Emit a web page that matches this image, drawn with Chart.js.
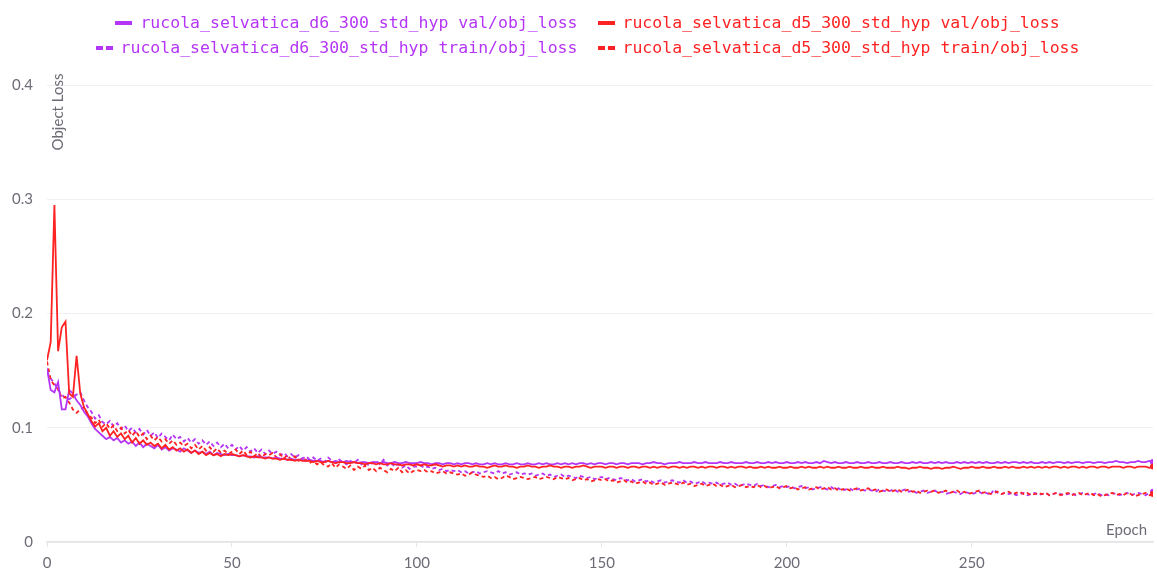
<!DOCTYPE html>
<html>
<head>
<meta charset="utf-8">
<title>obj_loss</title>
<script src="https://cdn.jsdelivr.net/npm/chart.js@4.4.1/dist/chart.umd.min.js"></script>
<style>
  body { margin: 0; background: #fff; }
  #wrap { position: relative; width: 1157px; height: 574px; }
  #legend {
    position: absolute; top: 10px; left: 18px; right: 0;
    font-family: "DejaVu Sans Mono", monospace; font-size: 16.5px;
  }
  .row { display: flex; justify-content: center; align-items: center; height: 25px; }
  .item { display: flex; align-items: center; margin: 0 10px; white-space: pre; }
  .mark { width: 17px; height: 4px; margin-right: 8px; }
</style>
</head>
<body>
<div id="wrap">
  <canvas id="lossChart" width="1157" height="574"></canvas>
  <div id="legend"></div>
</div>
<script>
// obj_loss pro Epoche, Läufe d6 und d5
const d6Val = [
  0.152, 0.133, 0.131, 0.140, 0.116, 0.116, 0.133, 0.130, 0.124, 0.120,
  0.114, 0.110, 0.104, 0.099, 0.096, 0.093, 0.090, 0.092, 0.089, 0.091,
  0.087, 0.089, 0.086, 0.088, 0.084, 0.087, 0.083, 0.086, 0.084, 0.082,
  0.085, 0.081, 0.083, 0.080, 0.082, 0.081, 0.079, 0.082, 0.080, 0.078,
  0.080, 0.078, 0.079, 0.077, 0.079, 0.076, 0.078, 0.077, 0.076, 0.077,
  0.076, 0.076, 0.075, 0.076, 0.075, 0.075, 0.074, 0.075, 0.074, 0.074,
  0.074, 0.073, 0.074, 0.073, 0.073, 0.072, 0.073, 0.072, 0.072, 0.072,
  0.071, 0.072, 0.071, 0.071, 0.071, 0.070, 0.071, 0.070, 0.071, 0.070,
  0.070, 0.071, 0.070, 0.070, 0.069, 0.070, 0.070, 0.069, 0.070, 0.070,
  0.069, 0.070, 0.069, 0.069, 0.070, 0.069, 0.069, 0.070, 0.069, 0.069,
  0.069, 0.070, 0.069, 0.069, 0.068, 0.069, 0.069, 0.068, 0.069, 0.069,
  0.068, 0.069, 0.068, 0.069, 0.069, 0.068, 0.069, 0.068, 0.068, 0.069,
  0.068, 0.069, 0.068, 0.068, 0.069, 0.068, 0.068, 0.069, 0.068, 0.068,
  0.069, 0.068, 0.068, 0.069, 0.068, 0.069, 0.068, 0.068, 0.069, 0.068,
  0.069, 0.068, 0.069, 0.068, 0.069, 0.069, 0.068, 0.069, 0.068, 0.069,
  0.069, 0.068, 0.069, 0.069, 0.068, 0.069, 0.069, 0.068, 0.069, 0.069,
  0.069, 0.068, 0.069, 0.069, 0.070, 0.069, 0.069, 0.068, 0.069, 0.069,
  0.069, 0.070, 0.069, 0.069, 0.069, 0.070, 0.069, 0.069, 0.070, 0.069,
  0.069, 0.069, 0.070, 0.069, 0.069, 0.070, 0.069, 0.069, 0.069, 0.070,
  0.069, 0.069, 0.070, 0.069, 0.069, 0.070, 0.069, 0.070, 0.069, 0.069,
  0.070, 0.069, 0.069, 0.070, 0.069, 0.070, 0.069, 0.069, 0.070, 0.069,
  0.071, 0.070, 0.069, 0.070, 0.069, 0.069, 0.070, 0.069, 0.069, 0.070,
  0.069, 0.069, 0.070, 0.069, 0.069, 0.070, 0.069, 0.069, 0.070, 0.069,
  0.069, 0.070, 0.069, 0.069, 0.070, 0.069, 0.070, 0.069, 0.069, 0.070,
  0.069, 0.070, 0.069, 0.070, 0.069, 0.069, 0.070, 0.069, 0.070, 0.069,
  0.070, 0.069, 0.070, 0.069, 0.070, 0.069, 0.069, 0.070, 0.069, 0.070,
  0.069, 0.070, 0.070, 0.069, 0.070, 0.069, 0.070, 0.069, 0.069, 0.070,
  0.069, 0.070, 0.069, 0.070, 0.070, 0.069, 0.070, 0.069, 0.070, 0.070,
  0.069, 0.070, 0.070, 0.069, 0.070, 0.070, 0.069, 0.070, 0.070, 0.071,
  0.070, 0.070, 0.069, 0.070, 0.070, 0.071, 0.070, 0.070, 0.071, 0.070
];

const d5Val = [
  0.159, 0.175, 0.295, 0.167, 0.188, 0.193, 0.130, 0.127, 0.163, 0.130,
  0.118, 0.112, 0.106, 0.101, 0.104, 0.097, 0.100, 0.093, 0.097, 0.092,
  0.095, 0.090, 0.093, 0.087, 0.091, 0.086, 0.089, 0.085, 0.087, 0.084,
  0.086, 0.082, 0.085, 0.081, 0.083, 0.080, 0.082, 0.079, 0.081, 0.078,
  0.080, 0.077, 0.079, 0.076, 0.078, 0.076, 0.077, 0.075, 0.077, 0.076,
  0.077, 0.076, 0.075, 0.076, 0.075, 0.074, 0.075, 0.074, 0.074, 0.073,
  0.074, 0.073, 0.073, 0.072, 0.073, 0.072, 0.072, 0.071, 0.072, 0.071,
  0.071, 0.071, 0.070, 0.071, 0.070, 0.070, 0.071, 0.070, 0.069, 0.070,
  0.070, 0.069, 0.069, 0.070, 0.069, 0.069, 0.068, 0.069, 0.069, 0.068,
  0.069, 0.068, 0.068, 0.069, 0.068, 0.068, 0.067, 0.068, 0.068, 0.067,
  0.068, 0.067, 0.068, 0.067, 0.067, 0.068, 0.067, 0.066, 0.067, 0.067,
  0.066, 0.067, 0.066, 0.067, 0.066, 0.066, 0.067, 0.066, 0.066, 0.065,
  0.066, 0.067, 0.066, 0.066, 0.067, 0.066, 0.066, 0.065, 0.066, 0.066,
  0.067, 0.066, 0.066, 0.065, 0.066, 0.066, 0.067, 0.066, 0.066, 0.065,
  0.066, 0.066, 0.065, 0.066, 0.066, 0.067, 0.066, 0.065, 0.066, 0.066,
  0.066, 0.065, 0.066, 0.066, 0.065, 0.066, 0.066, 0.065, 0.066, 0.066,
  0.065, 0.066, 0.066, 0.065, 0.066, 0.065, 0.066, 0.066, 0.065, 0.066,
  0.066, 0.065, 0.066, 0.065, 0.066, 0.066, 0.065, 0.066, 0.065, 0.066,
  0.066, 0.065, 0.066, 0.066, 0.065, 0.066, 0.065, 0.066, 0.066, 0.065,
  0.066, 0.065, 0.065, 0.066, 0.065, 0.066, 0.065, 0.065, 0.066, 0.065,
  0.065, 0.066, 0.065, 0.065, 0.066, 0.065, 0.066, 0.065, 0.065, 0.066,
  0.065, 0.066, 0.065, 0.065, 0.066, 0.065, 0.065, 0.066, 0.065, 0.065,
  0.066, 0.065, 0.065, 0.066, 0.065, 0.065, 0.066, 0.065, 0.065, 0.065,
  0.066, 0.065, 0.065, 0.064, 0.065, 0.065, 0.066, 0.065, 0.065, 0.064,
  0.065, 0.065, 0.064, 0.065, 0.065, 0.066, 0.065, 0.064, 0.065, 0.065,
  0.066, 0.065, 0.065, 0.066, 0.065, 0.065, 0.066, 0.065, 0.065, 0.066,
  0.065, 0.066, 0.065, 0.065, 0.066, 0.065, 0.066, 0.065, 0.066, 0.065,
  0.066, 0.065, 0.066, 0.066, 0.065, 0.066, 0.065, 0.066, 0.066, 0.065,
  0.066, 0.065, 0.066, 0.066, 0.065, 0.066, 0.066, 0.065, 0.066, 0.066,
  0.066, 0.065, 0.066, 0.066, 0.065, 0.066, 0.066, 0.066, 0.065, 0.066
];

const d6Train = [
  0.149, 0.143, 0.139, 0.133, 0.129, 0.126, 0.125, 0.127, 0.129, 0.131,
  0.124, 0.118, 0.114, 0.108, 0.111, 0.105, 0.103, 0.106, 0.101, 0.104,
  0.099, 0.102, 0.097, 0.100, 0.096, 0.099, 0.094, 0.098, 0.093, 0.096,
  0.091, 0.095, 0.092, 0.089, 0.094, 0.090, 0.092, 0.088, 0.091, 0.087,
  0.090, 0.086, 0.089, 0.085, 0.088, 0.084, 0.087, 0.083, 0.086, 0.082,
  0.085, 0.081, 0.084, 0.080, 0.083, 0.079, 0.082, 0.078, 0.081, 0.077,
  0.080, 0.077, 0.079, 0.076, 0.078, 0.075, 0.077, 0.074, 0.076, 0.073,
  0.075, 0.072, 0.074, 0.071, 0.073, 0.070, 0.074, 0.071, 0.069, 0.072,
  0.070, 0.068, 0.071, 0.069, 0.072, 0.068, 0.070, 0.067, 0.069, 0.071,
  0.068, 0.072, 0.067, 0.069, 0.066, 0.068, 0.065, 0.067, 0.064, 0.066,
  0.066, 0.067, 0.065, 0.066, 0.064, 0.065, 0.063, 0.064, 0.062, 0.063,
  0.062, 0.063, 0.061, 0.062, 0.060, 0.061, 0.062, 0.060, 0.061, 0.062,
  0.061, 0.060, 0.062, 0.060, 0.061, 0.059, 0.060, 0.061, 0.059, 0.060,
  0.059, 0.060, 0.058, 0.059, 0.060, 0.058, 0.059, 0.057, 0.058, 0.059,
  0.057, 0.058, 0.057, 0.056, 0.058, 0.057, 0.056, 0.057, 0.055, 0.056,
  0.057, 0.055, 0.056, 0.055, 0.054, 0.056, 0.055, 0.054, 0.055, 0.053,
  0.054, 0.055, 0.053, 0.054, 0.052, 0.053, 0.054, 0.052, 0.053, 0.054,
  0.053, 0.052, 0.054, 0.052, 0.053, 0.051, 0.052, 0.053, 0.051, 0.052,
  0.051, 0.052, 0.050, 0.051, 0.052, 0.050, 0.051, 0.049, 0.050, 0.051,
  0.050, 0.049, 0.051, 0.049, 0.050, 0.048, 0.049, 0.050, 0.048, 0.049,
  0.048, 0.049, 0.047, 0.048, 0.049, 0.047, 0.048, 0.046, 0.047, 0.048,
  0.047, 0.046, 0.048, 0.046, 0.047, 0.045, 0.046, 0.047, 0.045, 0.046,
  0.047, 0.045, 0.046, 0.045, 0.044, 0.046, 0.045, 0.044, 0.045, 0.046,
  0.044, 0.045, 0.046, 0.044, 0.045, 0.043, 0.044, 0.045, 0.043, 0.044,
  0.045, 0.043, 0.044, 0.042, 0.043, 0.044, 0.043, 0.042, 0.044, 0.043,
  0.042, 0.043, 0.044, 0.042, 0.043, 0.041, 0.046, 0.043, 0.042, 0.043,
  0.042, 0.043, 0.041, 0.042, 0.043, 0.041, 0.042, 0.043, 0.041, 0.042,
  0.043, 0.041, 0.042, 0.043, 0.042, 0.041, 0.042, 0.043, 0.041, 0.042,
  0.043, 0.042, 0.041, 0.042, 0.043, 0.041, 0.042, 0.041, 0.043, 0.042,
  0.041, 0.042, 0.043, 0.041, 0.042, 0.043, 0.042, 0.041, 0.043, 0.044
];

const d5Train = [
  0.158, 0.142, 0.137, 0.134, 0.126, 0.127, 0.122, 0.116, 0.113, 0.116,
  0.118, 0.112, 0.109, 0.104, 0.107, 0.101, 0.104, 0.099, 0.102, 0.097,
  0.100, 0.095, 0.098, 0.093, 0.097, 0.092, 0.095, 0.090, 0.093, 0.089,
  0.092, 0.088, 0.090, 0.086, 0.089, 0.085, 0.087, 0.084, 0.086, 0.082,
  0.085, 0.081, 0.084, 0.080, 0.083, 0.079, 0.082, 0.078, 0.080, 0.077,
  0.079, 0.081, 0.077, 0.080, 0.076, 0.079, 0.075, 0.078, 0.074, 0.077,
  0.076, 0.078, 0.074, 0.077, 0.073, 0.076, 0.072, 0.075, 0.071, 0.073,
  0.072, 0.069, 0.071, 0.068, 0.070, 0.067, 0.066, 0.069, 0.065, 0.068,
  0.066, 0.064, 0.067, 0.063, 0.066, 0.064, 0.067, 0.063, 0.065, 0.062,
  0.065, 0.063, 0.061, 0.064, 0.062, 0.065, 0.061, 0.063, 0.060, 0.062,
  0.063, 0.062, 0.063, 0.061, 0.062, 0.060, 0.061, 0.062, 0.060, 0.061,
  0.060, 0.059, 0.060, 0.058, 0.059, 0.061, 0.059, 0.058, 0.057, 0.058,
  0.056, 0.057, 0.055, 0.056, 0.058, 0.057, 0.055, 0.056, 0.057, 0.056,
  0.055, 0.056, 0.057, 0.055, 0.056, 0.057, 0.056, 0.055, 0.057, 0.056,
  0.055, 0.056, 0.054, 0.055, 0.056, 0.054, 0.055, 0.053, 0.054, 0.055,
  0.054, 0.055, 0.053, 0.054, 0.052, 0.053, 0.054, 0.052, 0.053, 0.051,
  0.052, 0.053, 0.051, 0.052, 0.050, 0.051, 0.052, 0.050, 0.051, 0.052,
  0.051, 0.050, 0.052, 0.050, 0.051, 0.049, 0.050, 0.051, 0.049, 0.050,
  0.051, 0.049, 0.050, 0.048, 0.049, 0.050, 0.048, 0.049, 0.050, 0.048,
  0.049, 0.048, 0.050, 0.048, 0.049, 0.047, 0.048, 0.049, 0.047, 0.048,
  0.049, 0.047, 0.048, 0.046, 0.047, 0.048, 0.046, 0.047, 0.048, 0.046,
  0.047, 0.048, 0.046, 0.047, 0.045, 0.046, 0.047, 0.045, 0.046, 0.047,
  0.045, 0.046, 0.047, 0.045, 0.046, 0.044, 0.045, 0.046, 0.044, 0.045,
  0.046, 0.044, 0.045, 0.046, 0.044, 0.045, 0.043, 0.044, 0.045, 0.044,
  0.045, 0.043, 0.044, 0.045, 0.043, 0.044, 0.045, 0.043, 0.044, 0.042,
  0.043, 0.044, 0.045, 0.043, 0.044, 0.042, 0.043, 0.044, 0.042, 0.043,
  0.044, 0.042, 0.043, 0.044, 0.042, 0.043, 0.041, 0.042, 0.043, 0.042,
  0.043, 0.041, 0.042, 0.043, 0.041, 0.042, 0.043, 0.041, 0.042, 0.043,
  0.041, 0.042, 0.043, 0.041, 0.042, 0.040, 0.041, 0.042, 0.043, 0.041,
  0.042, 0.041, 0.043, 0.042, 0.040, 0.041, 0.042, 0.043, 0.041, 0.042
];

const yTicks = [0, 0.1, 0.2, 0.3, 0.4];
const xTicks = [0, 50, 100, 150, 200, 250];

const PURPLE = '#b535f6';
const RED = '#ff2222';
const TEXT_GREY = '#6c6c76';
const TICK_FONT = { family: 'Lato, "Open Sans", sans-serif', size: 15 };

// Epochennummer = Index im Array
function toPoints(values) {
  return values.map((v, i) => ({ x: i, y: v }));
}

function makeSet(label, values, color, dashed, order) {
  return {
    label: label,
    data: toPoints(values),
    borderColor: color,
    backgroundColor: color,
    borderWidth: 1.8,
    borderDash: dashed ? [4, 3] : [],
    tension: 0,
    fill: false,
    order: order,
    // nur der letzte Punkt bekommt einen Marker
    pointRadius: ctx => ctx.dataIndex === values.length - 1 ? 3 : 0,
    pointBorderWidth: 0
  };
}

const datasets = [
  makeSet('rucola_selvatica_d6_300_std_hyp val/obj_loss', d6Val, PURPLE, false, 1),
  makeSet('rucola_selvatica_d5_300_std_hyp val/obj_loss', d5Val, RED, false, 0),
  makeSet('rucola_selvatica_d6_300_std_hyp train/obj_loss', d6Train, PURPLE, true, 3),
  makeSet('rucola_selvatica_d5_300_std_hyp train/obj_loss', d5Train, RED, true, 2)
];

// Achsentitel direkt auf den Canvas
const axisTitles = {
  id: 'axisTitles',
  afterDraw(chart) {
    const ctx = chart.ctx;
    const area = chart.chartArea;
    ctx.save();
    ctx.fillStyle = TEXT_GREY;
    ctx.font = '15px Lato, "Open Sans", sans-serif';
    ctx.textAlign = 'center';
    ctx.textBaseline = 'middle';
    ctx.translate(area.left + 11, area.top + 27);
    ctx.rotate(-Math.PI / 2);
    ctx.fillText('Object Loss', 0, 0);
    ctx.restore();

    ctx.save();
    ctx.fillStyle = TEXT_GREY;
    ctx.font = '15px Lato, "Open Sans", sans-serif';
    ctx.textAlign = 'right';
    ctx.textBaseline = 'middle';
    ctx.fillText('Epoch', area.right - 6, area.bottom - 12);
    ctx.restore();
  }
};

function initLossChart() {
  const ctx = document.getElementById('lossChart').getContext('2d');
  return new Chart(ctx, {
    type: 'line',
    data: { datasets: datasets },
    options: {
      responsive: false,
      animation: false,
      layout: { padding: { top: 85, left: 11, right: 1, bottom: 0 } },
      plugins: {
        legend: { display: false },
        tooltip: { enabled: false }
      },
      scales: {
        x: {
          type: 'linear',
          min: 0,
          max: d5Val.length - 1,
          border: { display: true, color: '#e4e4e8', width: 1.5 },
          grid: { drawOnChartArea: false, drawTicks: true, tickLength: 5, color: '#e4e4e8' },
          afterBuildTicks: axis => { axis.ticks = xTicks.map(v => ({ value: v })); },
          afterFit: axis => { axis.height = 32; },
          ticks: {
            padding: 7,
            color: TEXT_GREY,
            font: TICK_FONT,
            maxRotation: 0,
            autoSkip: false,
            callback: v => String(v)
          }
        },
        y: {
          min: yTicks[0],
          max: yTicks[yTicks.length - 1],
          border: { display: false },
          grid: { color: '#f0f0f2', drawTicks: false },
          afterBuildTicks: axis => { axis.ticks = yTicks.map(v => ({ value: v })); },
          afterFit: axis => { axis.width = 36; },
          ticks: {
            padding: 14,
            color: TEXT_GREY,
            font: TICK_FONT,
            callback: v => String(v)
          }
        }
      }
    },
    plugins: [axisTitles]
  });
}

// Legende als HTML, zwei Zeilen wie im Dashboard
function buildLegend(chart) {
  const box = document.getElementById('legend');
  const rows = [[0, 1], [2, 3]];
  rows.forEach(idx => {
    const row = document.createElement('div');
    row.className = 'row';
    idx.forEach(i => {
      const ds = chart.data.datasets[i];
      const item = document.createElement('div');
      item.className = 'item';
      item.style.color = ds.borderColor;
      const mark = document.createElement('span');
      mark.className = 'mark';
      if (ds.borderDash.length) {
        mark.style.background = 'repeating-linear-gradient(to right, ' + ds.borderColor +
          ' 0 7px, transparent 7px 10px)';
      } else {
        mark.style.background = ds.borderColor;
      }
      const txt = document.createElement('span');
      txt.textContent = ds.label;
      item.appendChild(mark);
      item.appendChild(txt);
      row.appendChild(item);
    });
    box.appendChild(row);
  });
}

const lossChart = initLossChart();
buildLegend(lossChart);
</script>
</body>
</html>
